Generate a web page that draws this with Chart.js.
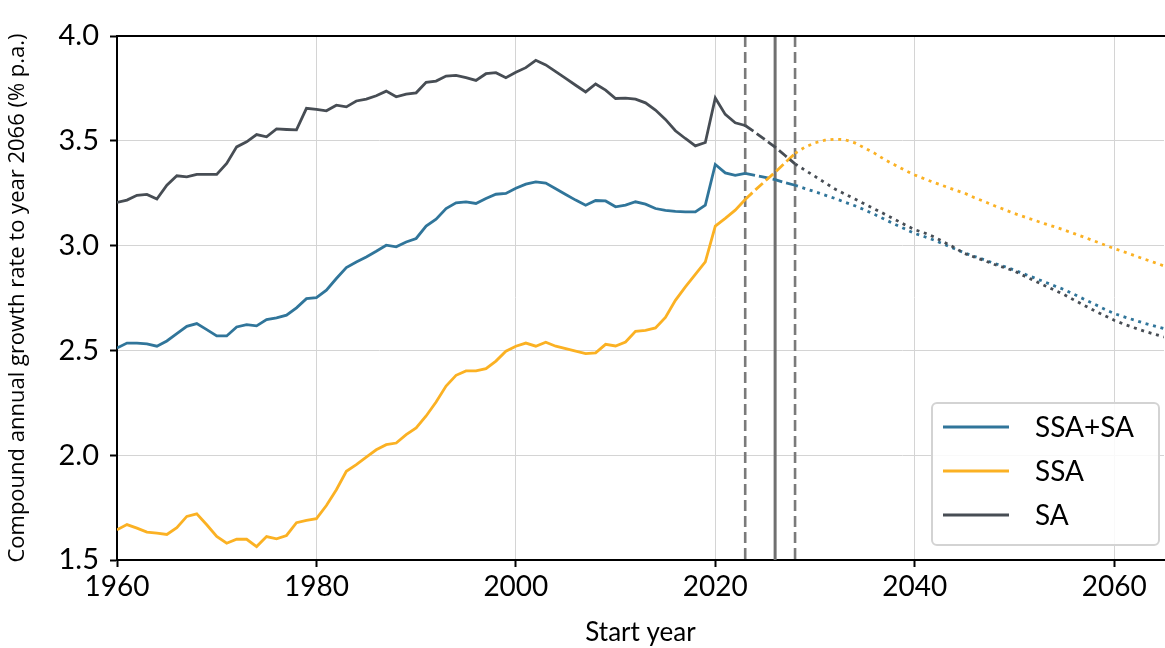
<!DOCTYPE html>
<html>
<head>
<meta charset="utf-8">
<script src="https://cdn.jsdelivr.net/npm/chart.js@4.4.1/dist/chart.umd.min.js"></script>
<style>
  html, body { margin: 0; padding: 0; background: #fff; }
  #wrap { width: 1165px; height: 648px; }
</style>
</head>
<body>
<div id="wrap"><canvas id="growthChart" width="1165" height="648"></canvas></div>
<script>
// first start year, one value per year from there on
const firstYear = 1960;
const dashFrom = 2023;   // projections start (dashed)
const dotFrom = 2028;    // long-range projections (dotted)
const markerYears = [2023, 2028];
const policyYear = 2026;

const xTicks = [1960, 1980, 2000, 2020, 2040, 2060];
const yTicks = [1.5, 2.0, 2.5, 3.0, 3.5, 4.0];

const seriesNames = ['SSA+SA', 'SSA', 'SA'];

const ssaSa = [
    2.511, 2.535, 2.535, 2.531, 2.52, 2.545, 2.58, 2.615, 2.628, 2.599,
    2.569, 2.569, 2.612, 2.623, 2.617, 2.647, 2.655, 2.668, 2.703, 2.747,
    2.752, 2.787, 2.843, 2.895, 2.922, 2.946, 2.973, 3.002, 2.994, 3.017,
    3.034, 3.093, 3.126, 3.177, 3.204, 3.209, 3.201, 3.225, 3.245, 3.249,
    3.274, 3.293, 3.304, 3.298, 3.271, 3.244, 3.217, 3.193, 3.215, 3.213,
    3.185, 3.193, 3.209, 3.198, 3.177, 3.168, 3.163, 3.161, 3.161, 3.193,
    3.387, 3.347, 3.335, 3.344, 3.335, 3.325, 3.315, 3.30, 3.288, 3.272,
    3.257, 3.241, 3.225, 3.207, 3.19, 3.17, 3.148, 3.125, 3.102, 3.08,
    3.058, 3.042, 3.025, 3.005, 2.985, 2.965, 2.948, 2.932, 2.915, 2.90,
    2.883, 2.864, 2.846, 2.827, 2.808, 2.79, 2.767, 2.744, 2.721, 2.698,
    2.676, 2.66, 2.645, 2.63, 2.617, 2.604
];

const ssa = [
    1.644, 1.669, 1.652, 1.633, 1.628, 1.622, 1.654, 1.708, 1.72, 1.668,
    1.612, 1.58, 1.599, 1.599, 1.564, 1.612, 1.601, 1.617, 1.678, 1.689,
    1.697, 1.76, 1.835, 1.923, 1.955, 1.991, 2.026, 2.05, 2.058, 2.098,
    2.13, 2.187, 2.254, 2.33, 2.381, 2.402, 2.402, 2.413, 2.449, 2.496,
    2.52, 2.535, 2.52, 2.539, 2.52, 2.508, 2.497, 2.485, 2.488, 2.529,
    2.521, 2.54, 2.591, 2.596, 2.607, 2.657, 2.739, 2.803, 2.863, 2.922,
    3.093, 3.13, 3.169, 3.22, 3.265, 3.308, 3.35, 3.395, 3.44, 3.47,
    3.49, 3.503, 3.508, 3.505, 3.49, 3.465, 3.44, 3.41, 3.385, 3.36,
    3.337, 3.318, 3.30, 3.283, 3.266, 3.25, 3.228, 3.21, 3.19, 3.172,
    3.153, 3.137, 3.121, 3.105, 3.09, 3.074, 3.057, 3.04, 3.022, 3.004,
    2.986, 2.97, 2.953, 2.936, 2.92, 2.903
];

const sa = [
    3.206, 3.217, 3.24, 3.244, 3.222, 3.288, 3.333, 3.328, 3.34, 3.34,
    3.34, 3.392, 3.471, 3.495, 3.53, 3.519, 3.557, 3.554, 3.552, 3.655,
    3.65, 3.643, 3.67, 3.662, 3.69, 3.699, 3.715, 3.737, 3.71, 3.723,
    3.729, 3.779, 3.785, 3.809, 3.812, 3.801, 3.788, 3.82, 3.825, 3.801,
    3.827, 3.849, 3.884, 3.862, 3.83, 3.798, 3.765, 3.733, 3.771, 3.742,
    3.702, 3.704, 3.699, 3.681, 3.647, 3.602, 3.548, 3.511, 3.476, 3.492,
    3.704, 3.626, 3.586, 3.573, 3.54, 3.505, 3.47, 3.43, 3.39, 3.36,
    3.33, 3.30, 3.27, 3.246, 3.222, 3.198, 3.174, 3.15, 3.125, 3.10,
    3.076, 3.06, 3.04, 3.015, 2.99, 2.962, 2.945, 2.928, 2.91, 2.895,
    2.878, 2.855, 2.832, 2.81, 2.788, 2.766, 2.74, 2.715, 2.69, 2.667,
    2.644, 2.625, 2.608, 2.592, 2.578, 2.564
];

const colors = ['#30759a', '#fbb123', '#474d54'];
const FONT = 'Lato, "Noto Sans", sans-serif';

function toPoints(vals) {
    return vals.map((v, i) => ({ x: firstYear + i, y: v }));
}

function lineStyle(ctx) {
    const x0 = ctx.p0.parsed.x;
    if (x0 >= dotFrom) return [3, 4.7];
    if (x0 >= dashFrom) return [10, 4];
    return undefined;
}

// vertical marker lines behind the data
const markerLines = {
    id: 'markerLines',
    beforeDatasetsDraw(chart) {
        const { ctx, chartArea, scales } = chart;
        ctx.save();
        ctx.strokeStyle = '#7a7a7a';
        ctx.lineWidth = 2.6;
        ctx.setLineDash([11, 5]);
        markerYears.forEach(yr => {
            const px = scales.x.getPixelForValue(yr);
            ctx.beginPath();
            ctx.moveTo(px, chartArea.top);
            ctx.lineTo(px, chartArea.bottom);
            ctx.stroke();
        });
        ctx.setLineDash([]);
        ctx.strokeStyle = '#707070';
        ctx.lineWidth = 3;
        const p = scales.x.getPixelForValue(policyYear);
        ctx.beginPath();
        ctx.moveTo(p, chartArea.top);
        ctx.lineTo(p, chartArea.bottom);
        ctx.stroke();
        ctx.restore();
    }
};

// top spine + legend box in the lower right
const frameAndLegend = {
    id: 'frameAndLegend',
    afterDraw(chart) {
        const { ctx, chartArea } = chart;
        ctx.save();
        ctx.strokeStyle = '#000';
        ctx.lineWidth = 2;
        ctx.beginPath();
        ctx.moveTo(chartArea.left - 1, chartArea.top);
        ctx.lineTo(chartArea.right + 1, chartArea.top);
        ctx.stroke();

        const w = 227, h = 142;
        const bx = chartArea.right - 5 - w;
        const by = chartArea.bottom - 15 - h;
        ctx.beginPath();
        ctx.roundRect(bx, by, w, h, 5);
        ctx.fillStyle = 'rgba(255,255,255,0.85)';
        ctx.fill();
        ctx.strokeStyle = '#d3d3d3';
        ctx.lineWidth = 2;
        ctx.stroke();

        ctx.font = '28px ' + FONT;
        ctx.textBaseline = 'middle';
        ctx.textAlign = 'left';
        chart.data.datasets.forEach((ds, i) => {
            const y = by + 24 + i * 44;
            ctx.strokeStyle = ds.borderColor;
            ctx.lineWidth = 3;
            ctx.beginPath();
            ctx.moveTo(bx + 11, y);
            ctx.lineTo(bx + 77, y);
            ctx.stroke();
            ctx.fillStyle = '#000';
            ctx.fillText(ds.label, bx + 103, y + 1);
        });
        ctx.restore();
    }
};

const ctx = document.getElementById('growthChart');

new Chart(ctx, {
    type: 'line',
    data: {
        datasets: [
            { label: seriesNames[0], data: toPoints(ssaSa), borderColor: colors[0], order: 3 },
            { label: seriesNames[1], data: toPoints(ssa), borderColor: colors[1], order: 2 },
            { label: seriesNames[2], data: toPoints(sa), borderColor: colors[2], order: 1 }
        ].map(d => Object.assign(d, {
            borderWidth: 2.8,
            pointRadius: 0,
            tension: 0,
            fill: false,
            segment: { borderDash: lineStyle }
        }))
    },
    options: {
        responsive: false,
        animation: false,
        devicePixelRatio: 1,
        layout: { padding: { top: 36, right: 1, left: 0, bottom: 0 } },
        plugins: {
            legend: { display: false },
            tooltip: { enabled: false }
        },
        scales: {
            x: {
                type: 'linear',
                min: 1960,
                max: 2065,
                afterBuildTicks: s => { s.ticks = xTicks.map(v => ({ value: v })); },
                afterFit: s => { s.height = 88; },
                grid: { color: '#d4d4d4', lineWidth: 1, tickColor: '#000', tickLength: 7, tickWidth: 2 },
                border: { color: '#000', width: 2 },
                ticks: {
                    color: '#000',
                    font: { family: FONT, size: 28 },
                    padding: 3,
                    maxRotation: 0,
                    callback: v => String(v)
                },
                title: {
                    display: true,
                    text: 'Start year',
                    color: '#000',
                    font: { family: FONT, size: 26 },
                    padding: { top: 4, bottom: 0 }
                }
            },
            y: {
                min: 1.5,
                max: 4.0,
                afterBuildTicks: s => { s.ticks = yTicks.map(v => ({ value: v })); },
                afterFit: s => { s.width = 117; },
                grid: { color: '#d4d4d4', lineWidth: 1, tickColor: '#000', tickLength: 7, tickWidth: 2 },
                border: { color: '#000', width: 2 },
                ticks: {
                    color: '#000',
                    font: { family: FONT, size: 29 },
                    padding: 11,
                    callback: v => v.toFixed(1)
                },
                title: {
                    display: true,
                    text: 'Compound annual growth rate to year 2066 (% p.a.)',
                    color: '#000',
                    font: { family: '"Open Sans", ' + FONT, size: 22 },
                    padding: { top: 5, bottom: 0 }
                }
            }
        }
    },
    plugins: [markerLines, frameAndLegend]
});
</script>
</body>
</html>
